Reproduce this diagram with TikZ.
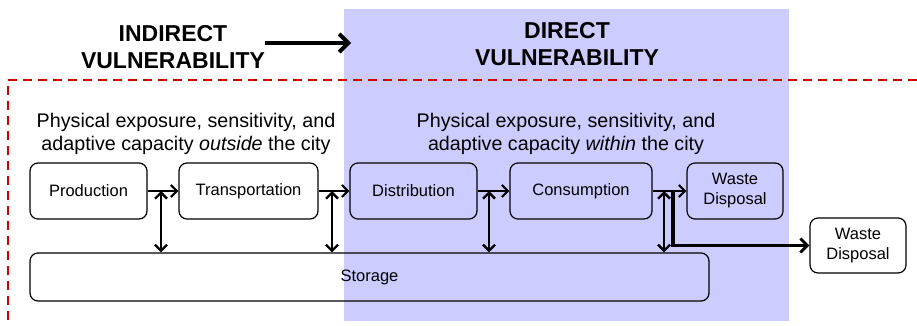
\documentclass[tikz,border=0pt]{standalone}
\usepackage{fontspec}
\setmainfont{Liberation Sans}
\usetikzlibrary{arrows.meta,positioning}
\definecolor{dirblue}{RGB}{204,204,255}
\definecolor{dashred}{RGB}{208,0,0}
\tikzset{
  box/.style={draw=black, line width=1.2pt, rounded corners=8pt, inner sep=0pt, align=center,
    font=\fontsize{16.5}{20}\selectfont},
  flow/.style={line width=2.2pt, -{Straight Barb[length=6pt,width=12pt,line width=2.2pt]}},
  twoway/.style={line width=2.5pt, {Straight Barb[length=6pt,width=12pt,line width=2.4pt]}-{Straight Barb[length=6pt,width=12pt,line width=2.4pt]}},
  title/.style={font=\fontsize{23}{27}\selectfont\bfseries, align=center},
  desc/.style={font=\fontsize{19.7}{23}\selectfont, align=center},
}
\begin{document}
\begin{tikzpicture}[x=1pt,y=-1pt]
\useasboundingbox (0,0) rectangle (917,326);
% direct area
\fill[dirblue] (344,9) rectangle (789,321);
% dashed city border
\draw[dashred, line width=2.9pt, dash pattern=on 9pt off 6pt] (917,80) -- (8,80) -- (8,326);
% titles
\node[title] (indir) at (173,47) {INDIRECT\\VULNERABILITY};
\node[title] (dir) at (567,44) {DIRECT\\VULNERABILITY};
\coordinate (ta) at (265,43);
\coordinate (tb) at (351,43);
\draw[line width=4pt, -{Straight Barb[length=9pt,width=18pt,line width=4pt]}] (ta) -- (tb);
% descriptions
\node[desc] (dout) at (186,134) {Physical exposure, sensitivity, and\\adaptive capacity \textit{outside} the city};
\node[desc] (din) at (566,134) {Physical exposure, sensitivity, and\\adaptive capacity \textit{within} the city};
% boxes
\node[box, minimum width=117pt, minimum height=56pt] (prod) at (88.5,191) {Production};
\node[box, minimum width=139pt, minimum height=56pt] (trans) at (248.5,191) {Transportation};
\node[box, minimum width=127pt, minimum height=56pt] (dist) at (413.5,191) {Distribution};
\node[box, minimum width=142pt, minimum height=56pt] (cons) at (581,191) {Consumption};
\node[box, minimum width=96pt, minimum height=56pt] (wd1) at (735,191) {Waste\\Disposal};
\node[box, fill=white, minimum width=96pt, minimum height=55pt] (wd2) at (858,245.5) {Waste\\Disposal};
\node[box, minimum width=679pt, minimum height=48pt] (stor) at (369.5,277) {Storage};
% flow arrows
\draw[flow] (prod.east) -- (trans.west);
\draw[flow] (trans.east) -- (dist.west);
\draw[flow] (dist.east) -- (cons.west);
\draw[flow] (cons.east) -- (wd1.west);
% storage links
\coordinate (j1) at (161,191);
\coordinate (j2) at (332,191);
\coordinate (j3) at (489,191);
\coordinate (j4) at (664,191);
\coordinate (j5) at (673,191);
\draw[twoway] (j1) -- (j1 |- stor.north);
\draw[twoway] (j2) -- (j2 |- stor.north);
\draw[twoway] (j3) -- (j3 |- stor.north);
\draw[twoway] (j4) -- (j4 |- stor.north);
% outside waste disposal
\draw[line width=3.2pt, -{Straight Barb[length=7pt,width=14pt,line width=2.8pt]}] (j5) |- (wd2.west);
\end{tikzpicture}
\end{document}
